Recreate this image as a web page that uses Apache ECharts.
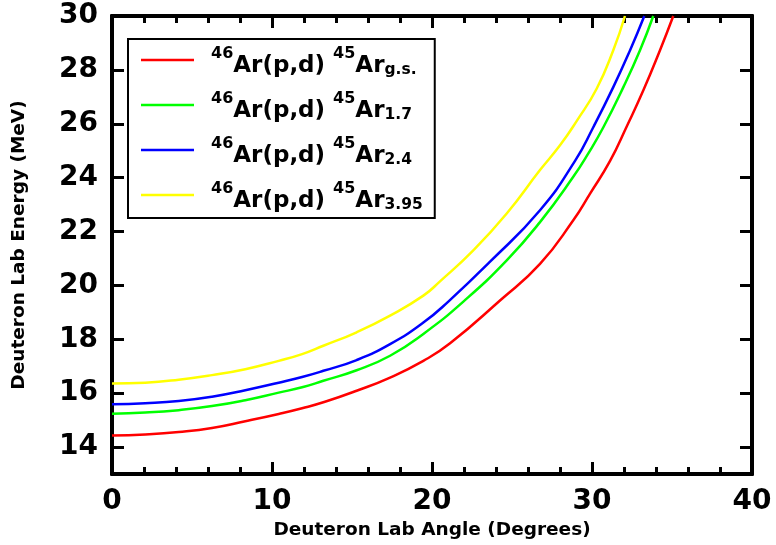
<!DOCTYPE html>
<html>
<head>
<meta charset="utf-8">
<script src="https://cdn.jsdelivr.net/npm/echarts@6/dist/echarts.min.js"></script>
<style>
html,body{margin:0;padding:0;background:#fff;}
#chart{width:776px;height:545px;}
</style>
</head>
<body>
<div id="chart"></div>
<script>
// ---- data (Deuteron lab angle [deg], deuteron lab energy [MeV]) ----
const stateLabels = ['g.s.', '1.7', '2.4', '3.95'];
const curveGS = [[0,14.43],[2.08,14.47],[4.17,14.56],[6.25,14.71],[8.33,14.96],[10.42,15.23],[11.88,15.44],[13.31,15.68],[15.29,16.09],[17.38,16.58],[19.46,17.2],[21.13,17.85],[24.25,19.44],[26.75,20.8],[28.83,22.42],[29.88,23.41],[31.13,24.62],[32.17,25.9],[33.21,27.24],[34.25,28.73],[35.08,30]];
const curve17 = [[0,15.24],[2.08,15.28],[4.17,15.37],[6.25,15.52],[8.33,15.74],[10.42,16.02],[11.88,16.22],[13.21,16.46],[15.29,16.85],[17.38,17.39],[19.46,18.2],[21.96,19.4],[24.67,20.93],[26.75,22.35],[28.83,24.03],[29.77,24.9],[30.71,25.87],[31.96,27.36],[33.0,28.73],[33.83,30]];
const curve24 = [[0,15.59],[2.08,15.63],[4.17,15.71],[6.25,15.87],[8.33,16.11],[10.42,16.39],[11.88,16.6],[13.21,16.83],[15.29,17.23],[17.38,17.82],[19.46,18.62],[21.02,19.4],[23.63,20.88],[26.75,22.79],[28.94,24.62],[30.08,25.87],[31.33,27.36],[32.38,28.73],[33.27,30]];
const curve395 = [[0,16.36],[2.08,16.39],[4.17,16.5],[6.25,16.67],[8.33,16.89],[10.42,17.2],[11.88,17.45],[13.21,17.76],[15.29,18.26],[17.38,18.88],[19.46,19.62],[20.5,20.15],[22.58,21.3],[24.67,22.67],[26.75,24.28],[28.0,25.2],[29.04,26.1],[30.29,27.3],[31.33,28.73],[32.06,30]];
const seriesColors = ['#ff0000', '#00ff00', '#0000ff', '#ffff00'];
const xTicks = [0, 10, 20, 30, 40];
const xMinorTicks = [2, 4, 6, 8, 12, 14, 16, 18, 22, 24, 26, 28, 32, 34, 36, 38];
const yTicks = [14, 16, 18, 20, 22, 24, 26, 28, 30];

const FONT = 'DejaVu Sans';
const curves = [curveGS, curve17, curve24, curve395];

const chart = echarts.init(document.getElementById('chart'), null, {renderer: 'canvas'});

const axisLineStyle = {color: '#000', width: 4};
const tickLineStyle = {color: '#000', width: 3};

function minorAxis(pos) {
  return {
    type: 'value', min: 0, max: 40, position: pos, offset: 0,
    axisLine: {show: true, onZero: false, lineStyle: {color: '#000', width: 4}},
    axisTick: {show: true, inside: true, length: 7, lineStyle: tickLineStyle, customValues: xMinorTicks},
    splitLine: {show: false},
    axisLabel: {show: false, customValues: xMinorTicks}
  };
}

const option = {
  backgroundColor: '#fff',
  animation: false,
  grid: {left: 112, right: 24, top: 16, bottom: 71, containLabel: false, outerBoundsMode: 'none'},
  legend: {
    left: 128, top: 39,
    orient: 'vertical',
    selectedMode: false,
    padding: [7, 12, 5, 13],
    itemGap: 13,
    itemWidth: 53,
    itemHeight: 2.5,
    icon: 'rect',
    borderColor: '#000',
    borderWidth: 2,
    backgroundColor: '#fff',
    data: stateLabels,
    formatter: function (name) {
      return '{sup|46}{main|Ar(p,d) }{sup|45}{main|Ar}{sub|' + name + '}';
    },
    textStyle: {
      padding: [4, 0, 0, 12],
      rich: {
        main: {fontFamily: FONT, fontWeight: 'bold', fontSize: 23, color: '#000', lineHeight: 32, verticalAlign: 'bottom'},
        sup: {fontFamily: FONT, fontWeight: 'bold', fontSize: 16, color: '#000', verticalAlign: 'top'},
        sub: {fontFamily: FONT, fontWeight: 'bold', fontSize: 15.5, color: '#000', verticalAlign: 'bottom'}
      }
    }
  },
  xAxis: [
    {
      type: 'value', min: 0, max: 40, interval: 10, position: 'bottom',
      name: 'Deuteron Lab Angle (Degrees)', nameLocation: 'middle', nameGap: 47,
      nameTextStyle: {fontFamily: FONT, fontWeight: 'bold', fontSize: 18.5, color: '#000'},
      axisLine: {show: true, onZero: false, lineStyle: axisLineStyle},
      axisTick: {show: true, inside: true, length: 12, lineStyle: tickLineStyle},
      minorTick: {show: true, splitNumber: 5, length: 7, lineStyle: tickLineStyle},
      splitLine: {show: false},
      axisLabel: {fontFamily: FONT, fontWeight: 'bold', fontSize: 28, color: '#000', margin: 14}
    },
    {
      type: 'value', min: 0, max: 40, interval: 10, position: 'top',
      axisLine: {show: true, onZero: false, lineStyle: axisLineStyle},
      axisTick: {show: true, inside: true, length: 12, lineStyle: tickLineStyle},
      minorTick: {show: true, splitNumber: 5, length: 7, lineStyle: tickLineStyle},
      splitLine: {show: false},
      axisLabel: {show: false}
    },
    minorAxis('bottom'),
    minorAxis('top')
  ],
  yAxis: [
    {
      type: 'value', min: 13, max: 30, position: 'left',
      name: 'Deuteron Lab Energy (MeV)', nameLocation: 'middle', nameGap: 83,
      nameTextStyle: {fontFamily: FONT, fontWeight: 'bold', fontSize: 18.5, color: '#000'},
      axisLine: {show: true, onZero: false, lineStyle: axisLineStyle},
      axisTick: {show: true, inside: true, length: 12, lineStyle: tickLineStyle, customValues: yTicks},
      splitLine: {show: false},
      axisLabel: {fontFamily: FONT, fontWeight: 'bold', fontSize: 28, color: '#000', margin: 14, customValues: yTicks}
    },
    {
      type: 'value', min: 13, max: 30, position: 'right',
      axisLine: {show: true, onZero: false, lineStyle: axisLineStyle},
      axisTick: {show: true, inside: true, length: 12, lineStyle: tickLineStyle, customValues: yTicks},
      splitLine: {show: false},
      axisLabel: {show: false, customValues: yTicks}
    }
  ],
  series: stateLabels.map(function (lab, i) {
    return {
      name: lab,
      type: 'line',
      xAxisIndex: 0,
      yAxisIndex: 0,
      data: curves[i],
      symbol: 'none',
      smooth: 0.5,
      clip: true,
      color: seriesColors[i],
      lineStyle: {color: seriesColors[i], width: 2.5}
    };
  })
};

chart.setOption(option);
</script>
</body>
</html>
